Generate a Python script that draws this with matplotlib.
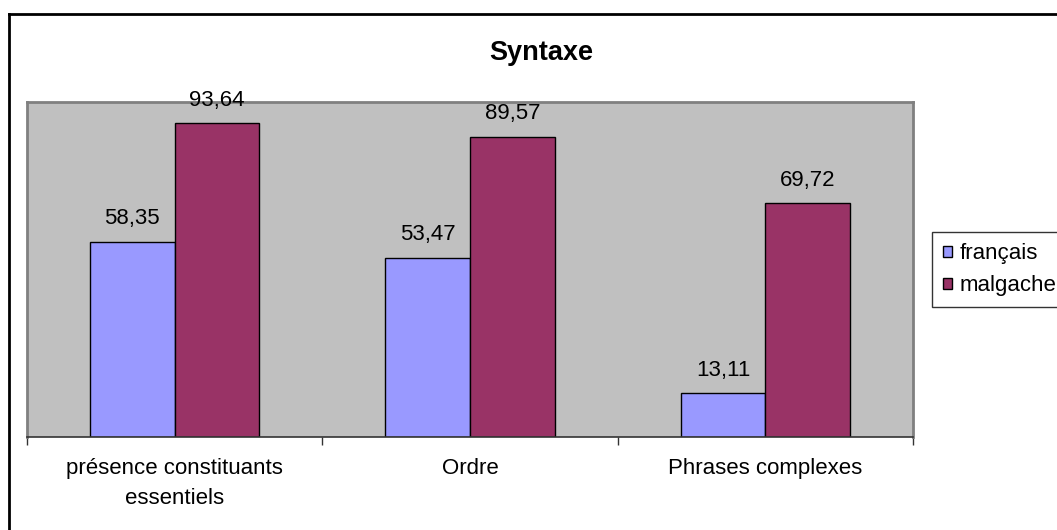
import matplotlib
matplotlib.use("Agg")
import matplotlib.pyplot as plt
import numpy as np
from matplotlib.lines import Line2D

plt.rcParams['font.family'] = ['Liberation Sans', 'DejaVu Sans']

categories = ["présence constituants\nessentiels", "Ordre", "Phrases complexes"]
series_names = ["français", "malgache"]
francais = [58.35, 53.47, 13.11]
malgache = [93.64, 89.57, 69.72]
colors = ["#9999FF", "#993366"]

W, H = 1057, 530
fig = plt.figure(figsize=(W / 100, H / 100), dpi=100)
ax = fig.add_axes([27 / W, 1 - 437 / H, (913 - 27) / W, (437 - 102) / H])
ax.set_facecolor("#C0C0C0")

x = np.arange(len(categories))
bw = 0.287
bars = []
for i, (vals, c, name) in enumerate(zip([francais, malgache], colors, series_names)):
    b = ax.bar(x + (i - 0.5) * bw, vals, bw, color=c, edgecolor="black", linewidth=1.0, label=name)
    bars.append(b)
    for xi, v in zip(x + (i - 0.5) * bw, vals):
        ax.annotate(f"{v:.2f}".replace(".", ","), (xi, v), xytext=(0, 9), textcoords="offset points",
                    ha="center", va="bottom", fontsize=16)

ax.set_xlim(-0.5, len(categories) - 0.5)
ax.set_ylim(0, 100)
ax.set_yticks([])
ax.set_xticks(np.arange(len(categories) + 1) - 0.5, minor=False)
ax.set_xticklabels([])
ax.set_xticks(x, minor=True)
ax.set_xticklabels(categories, minor=True, fontsize=16, linespacing=1.55)
ax.tick_params(axis="x", which="major", length=6, width=1, color="#333333", direction="out")
ax.tick_params(axis="x", which="minor", length=0, pad=15)
for s in ["top", "right", "left"]:
    ax.spines[s].set_color("#808080")
    ax.spines[s].set_linewidth(2)
ax.spines["bottom"].set_color("#333333")
ax.spines["bottom"].set_linewidth(1.2)

fig.text(541 / W, 1 - 53 / H, "Syntaxe", ha="center", va="center", fontsize=19.5, fontweight="bold")

leg = fig.legend(handles=bars, labels=series_names, loc="upper left",
                 bbox_to_anchor=(932 / W, 1 - 232 / H), frameon=True, fancybox=False,
                 edgecolor="black", fontsize=16, handlelength=0.4, handleheight=0.4,
                 handletextpad=0.35, borderpad=0.5, labelspacing=0.5, borderaxespad=0)
leg.get_frame().set_linewidth(1)

fig.add_artist(Line2D([9 / W, 9 / W], [0, 1 - 14 / H], color="black", linewidth=2, transform=fig.transFigure))
fig.add_artist(Line2D([9 / W, 1], [1 - 14 / H, 1 - 14 / H], color="black", linewidth=2, transform=fig.transFigure))

fig.savefig("out.png", dpi=100)
